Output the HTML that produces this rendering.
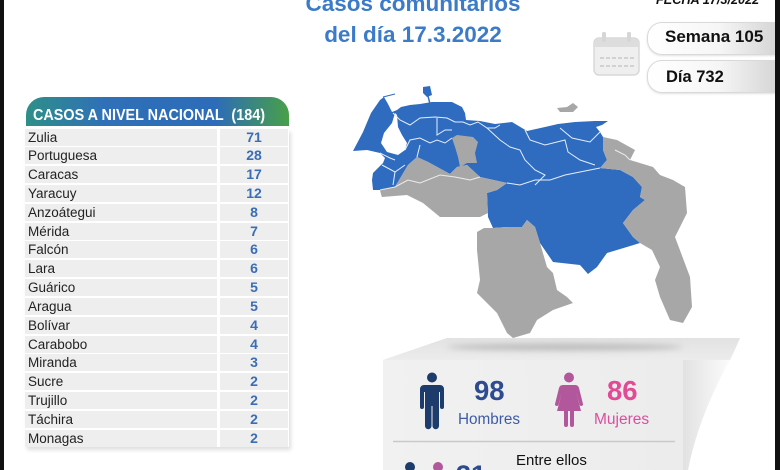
<!DOCTYPE html>
<html><head><meta charset="utf-8">
<style>
html,body{margin:0;padding:0;width:780px;height:470px;overflow:hidden;}
body{background:#fff;position:relative;font-family:"Liberation Sans",sans-serif;}
.abs{position:absolute;white-space:nowrap;}
#tbl{position:absolute;left:25px;top:128.5px;width:264px;box-shadow:2px 3px 4px rgba(0,0,0,0.13);}
.row{position:relative;height:17px;margin-bottom:1.83px;}
.row .n{position:absolute;left:0;top:0;width:192px;height:17px;background:#eeeeee;font-size:13.5px;line-height:17px;color:#222;padding-left:3px;box-sizing:border-box;}
.row .v{position:absolute;left:195px;top:0;width:68px;height:17px;background:#eeeeee;font-size:14px;line-height:17px;color:#3a6db4;font-weight:bold;text-align:center;}
.pill{position:absolute;left:647px;width:130px;height:33px;border:1px solid #d9d9d9;border-radius:15px 0 0 15px;box-sizing:border-box;background:linear-gradient(to right,#ffffff 0%,#f6f6f6 55%,#d6d6d6 100%);box-shadow:0 1px 2px rgba(0,0,0,0.12);}
#wrap{position:absolute;left:0;top:0;width:780px;height:470px;overflow:hidden;}
</style></head><body>
<div id="wrap">

<!-- title -->
<div class="abs" style="left:0;width:826px;text-align:center;top:-7.3px;font-size:22.5px;line-height:22.5px;font-weight:bold;color:#3b7bc8;">Casos comunitarios</div>
<div class="abs" style="left:0;width:826px;text-align:center;top:23.7px;font-size:22.5px;line-height:22.5px;font-weight:bold;color:#3b7bc8;">del día 17.3.2022</div>

<!-- fecha -->
<div class="abs" style="left:656px;top:-5.7px;font-size:12.7px;line-height:12.7px;font-weight:bold;font-style:italic;color:#111;">FECHA 17/3/2022</div>

<!-- pills -->
<div class="pill" style="top:22px;"></div>
<div class="pill" style="top:60px;"></div>
<div class="abs" style="left:665px;top:28.3px;font-size:17px;line-height:17px;font-weight:bold;color:#111;">Semana 105</div>
<div class="abs" style="left:666px;top:69.3px;font-size:16.5px;line-height:16.5px;font-weight:bold;color:#111;">Día 732</div>

<svg class="abs" style="left:0;top:0;" width="780" height="470" viewBox="0 0 780 470">
<defs>
<linearGradient id="curl" x1="0" x2="1" y1="0" y2="0"><stop offset="0" stop-color="#e2e2e2"/><stop offset="1" stop-color="#fbfbfb"/></linearGradient>
<linearGradient id="topf" x1="0" x2="0" y1="0" y2="1"><stop offset="0" stop-color="#e2e2e2"/><stop offset="1" stop-color="#ececec"/></linearGradient>
<linearGradient id="front" x1="0" x2="1" y1="0" y2="0"><stop offset="0" stop-color="#f1f1f1"/><stop offset="1" stop-color="#ececec"/></linearGradient>
<filter id="bl" x="-20%" y="-200%" width="140%" height="500%"><feGaussianBlur stdDeviation="3"/></filter>
</defs>
<!-- calendar icon -->
<g>
<rect x="594" y="38" width="45" height="37" rx="5" fill="#efefef" stroke="#d9d9d9" stroke-width="1.5"/>
<path d="M594.75,47 h43.5 v-4 a4.5,4.5 0 0 0 -4.5,-4.5 h-34.5 a4.5,4.5 0 0 0 -4.5,4.5z" fill="#dddddd"/>
<rect x="602" y="32" width="4" height="10" rx="1.5" fill="#d6d6d6"/>
<rect x="627" y="32" width="4" height="10" rx="1.5" fill="#d6d6d6"/>
<line x1="600" y1="58" x2="634" y2="58" stroke="#d2d2d2" stroke-width="2" stroke-dasharray="4 2"/>
<line x1="600" y1="66" x2="634" y2="66" stroke="#d2d2d2" stroke-width="2" stroke-dasharray="4 2"/>
</g>

<!-- map -->
<g>
<polygon fill="#2f6cbf" points="353,151 363,132 371,113 380,100 384,97 388,104 392,112 397,110 401,107 410,105 420,104 432,102 452,102 462,107 465,113 466,120 480,121 495,124 512,122 527,131 545,127 558,124 575,122 595,121 608,121 602,125 596,127 600,132 603,137 603,150 607,160 600,168 620,170 633,177 642,187 640,197 645,200 633,210 623,223 633,237 640,243 607,253 597,267 588,274 580,265 553,262 540,243 535,227 527,220 522,227 507,227 493,228 488,217 487,193 497,190 507,183 480,177 467,165 457,167 450,174 428,162 417,157 408,165 395,187 382,197 380,190 373,190 372,180 373,173 383,163 385,158 380,153 367,150"/>
<polygon fill="#2f6cbf" points="423,87 430,86 432,95 427,97 423,93"/>
<line x1="428" y1="96" x2="430" y2="104" stroke="#2f6cbf" stroke-width="1.5"/>
<line x1="383" y1="97" x2="395" y2="94" stroke="#2f6cbf" stroke-width="1"/>
<polygon fill="#a7a7a7" points="408,165 417,157 428,162 450,174 457,167 467,165 480,177 507,183 497,190 487,193 488,213 480,217 440,217 423,203 407,195 382,197 380,190 395,187"/>
<polygon fill="#a7a7a7" points="452,138 457,135 473,137 478,142 475,153 477,163 467,163 460,167 458,157 455,147"/>
<polygon fill="#a7a7a7" points="484,228 493,228 507,227 522,227 527,220 535,227 540,243 547,267 553,273 557,290 567,297 573,303 553,310 537,320 530,333 513,338 507,333 497,313 477,293 480,280 477,250 477,232"/>
<polygon fill="#a7a7a7" points="603,137 617,140 635,150 630,160 653,167 660,175 673,180 685,187 687,213 675,237 690,277 692,307 683,323 670,320 660,297 655,280 660,267 652,250 640,243 633,237 623,223 633,210 645,200 640,197 642,187 633,177 620,170 600,168 607,160 603,150"/>
<polygon fill="#a7a7a7" points="557,108 567,107 573,103 578,107 573,112 560,112"/>
<polygon fill="#ffffff" points="395,113 392,123 384,133 381,143 387,152 398,155 405,150 407,143 402,135 398,127 397,115"/>
<g fill="none" stroke="#e6eef8" stroke-width="1">
<polyline points="393,113 400,120 410,125 420,118 435,117 447,118 455,122 463,122 470,125 478,122 487,128 495,128 500,125"/>
<polyline points="405,150 410,140 420,138 430,143 437,140 445,143 452,138"/>
<polyline points="437,118 437,135 445,130 452,130"/>
<polyline points="487,128 500,140 510,147 520,150 525,160 535,170 545,175 535,185"/>
<polyline points="525,130 530,140 545,145 565,140 568,152 580,160 595,165"/>
<polyline points="560,128 572,138 590,142 600,132"/>
<polyline points="507,183 520,185 535,180 550,180 565,175 580,172 600,168"/>
<polyline points="382,165 395,172 405,165"/>
<polyline points="395,172 393,185"/>
<polyline points="417,157 420,145"/>
<polyline points="380,153 390,158 395,160"/>
</g>
<g fill="none" stroke="#ececec" stroke-width="1">
<polyline points="380,190 395,187 408,180 420,183 440,175 455,177 470,180 480,177"/>
<polyline points="615,150 625,155 630,160"/>
</g>
</g>

<!-- card -->
<path d="M447,338 L740,338 C725,370 700,410 688,470 L383,470 L383,360 Z" fill="#ececec"/>
<path d="M447,338 L740,338 C737,345 734,352 730,360 L383,360 Z" fill="url(#topf)"/>
<ellipse cx="565" cy="347" rx="118" ry="3.5" fill="#bdbdbd" filter="url(#bl)"/>
<rect x="383" y="360" width="300" height="110" fill="url(#front)"/>
<path d="M683,360 L730,360 C712,392 696,430 688,470 L683,470 Z" fill="url(#curl)"/>
<line x1="393" y1="441.5" x2="675" y2="441.5" stroke="#c9c9c9" stroke-width="1.5"/>

<!-- man -->
<g fill="#1d3b6b">
<circle cx="432" cy="377.5" r="5"/>
<path d="M424,385 h16 a4,4 0 0 1 4,4 v18 a2,2 0 0 1 -4,0 v-15 h-1 v34 a3.25,3.25 0 0 1 -6.5,0 v-20 h-1 v20 a3.25,3.25 0 0 1 -6.5,0 v-34 h-1 v15 a2,2 0 0 1 -4,0 v-18 a4,4 0 0 1 4,-4 z"/>
</g>
<!-- woman -->
<g fill="#b2579b">
<circle cx="569" cy="377.5" r="5"/>
<path d="M563,385 h12 a4,4 0 0 1 4,3 l4,16 a1.8,1.8 0 0 1 -3.4,1 l-3.6,-13 l5,19 h-7 v14 a2,2 0 0 1 -4,0 v-14 h-2 v14 a2,2 0 0 1 -4,0 v-14 h-7 l5,-19 l-3.6,13 a1.8,1.8 0 0 1 -3.4,-1 l4,-16 a4,4 0 0 1 4,-3 z"/>
</g>
<circle cx="410" cy="467" r="5" fill="#1d3b6b"/>
<circle cx="438" cy="467" r="5" fill="#b2579b"/>
</svg>

<!-- card texts -->
<div class="abs" style="left:474px;top:377.4px;font-size:27.5px;line-height:27.5px;font-weight:bold;color:#2d4b8e;">98</div>
<div class="abs" style="left:607px;top:377.4px;font-size:27.5px;line-height:27.5px;font-weight:bold;color:#e14b96;">86</div>
<div class="abs" style="left:458px;top:412px;font-size:15.3px;line-height:15.3px;color:#3e5ba5;">Hombres</div>
<div class="abs" style="left:594px;top:412px;font-size:15.5px;line-height:15.5px;color:#d84f9f;">Mujeres</div>
<div class="abs" style="left:516px;top:453px;font-size:15px;line-height:15px;color:#111;">Entre ellos</div>
<div class="abs" style="left:456px;top:462px;font-size:27px;line-height:27px;font-weight:bold;color:#2d4b8e;">31</div>

<!-- table header -->
<div class="abs" style="left:26px;top:97px;width:263px;height:29px;border-radius:18px 18px 0 0;background:linear-gradient(to right,#2e8f88 0%,#2f70b8 30%,#2d6cb8 72%,#48a047 100%);"></div>
<div class="abs" style="left:33px;top:108.2px;font-size:16px;line-height:16px;font-weight:bold;color:#fff;transform:scaleX(0.9);transform-origin:0 0;">CASOS A NIVEL NACIONAL &nbsp;(184)</div>

<div id="tbl">
<div class="row"><div class="n">Zulia</div><div class="v">71</div></div>
<div class="row"><div class="n">Portuguesa</div><div class="v">28</div></div>
<div class="row"><div class="n">Caracas</div><div class="v">17</div></div>
<div class="row"><div class="n">Yaracuy</div><div class="v">12</div></div>
<div class="row"><div class="n">Anzoátegui</div><div class="v">8</div></div>
<div class="row"><div class="n">Mérida</div><div class="v">7</div></div>
<div class="row"><div class="n">Falcón</div><div class="v">6</div></div>
<div class="row"><div class="n">Lara</div><div class="v">6</div></div>
<div class="row"><div class="n">Guárico</div><div class="v">5</div></div>
<div class="row"><div class="n">Aragua</div><div class="v">5</div></div>
<div class="row"><div class="n">Bolívar</div><div class="v">4</div></div>
<div class="row"><div class="n">Carabobo</div><div class="v">4</div></div>
<div class="row"><div class="n">Miranda</div><div class="v">3</div></div>
<div class="row"><div class="n">Sucre</div><div class="v">2</div></div>
<div class="row"><div class="n">Trujillo</div><div class="v">2</div></div>
<div class="row"><div class="n">Táchira</div><div class="v">2</div></div>
<div class="row" style="margin-bottom:0"><div class="n">Monagas</div><div class="v">2</div></div>
</div>

<!-- black edges -->
<div class="abs" style="left:0;top:0;width:4px;height:470px;background:#111;"></div>
<div class="abs" style="left:775px;top:0;width:5px;height:470px;background:#111;"></div>
</div>
</body></html>
